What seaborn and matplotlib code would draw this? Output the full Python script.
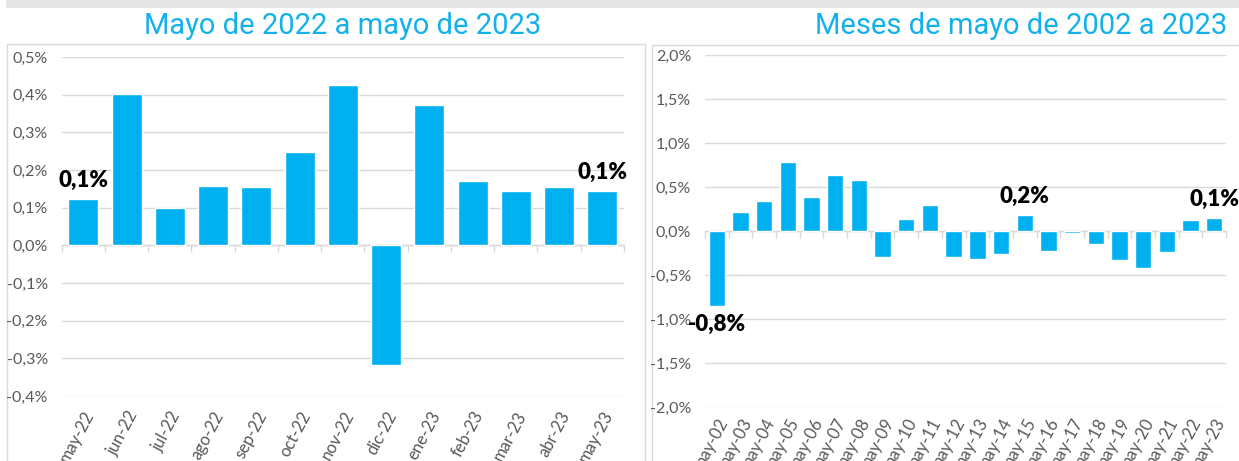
import numpy as np
import pandas as pd
import matplotlib
matplotlib.use("Agg")
import matplotlib.pyplot as plt
import seaborn as sns
from matplotlib.patches import Rectangle
from matplotlib.ticker import FixedLocator, FuncFormatter

# ---------------- data ----------------
left_months = ["may-22", "jun-22", "jul-22", "ago-22", "sep-22", "oct-22", "nov-22",
               "dic-22", "ene-23", "feb-23", "mar-23", "abr-23", "may-23"]
left_values = [0.123, 0.401, 0.0995, 0.157, 0.154, 0.248, 0.425,
               -0.319, 0.372, 0.170, 0.143, 0.154, 0.143]
left_yticks = [0.5, 0.4, 0.3, 0.2, 0.1, 0.0, -0.1, -0.2, -0.3, -0.4]
left_labelled = ["may-22", "may-23"]
left_title = "Mayo de 2022 a mayo de 2023"

right_years = ["may-02", "may-03", "may-04", "may-05", "may-06", "may-07", "may-08",
               "may-09", "may-10", "may-11", "may-12", "may-13", "may-14", "may-15",
               "may-16", "may-17", "may-18", "may-19", "may-20", "may-21", "may-22", "may-23"]
right_values = [-0.848, 0.220, 0.341, 0.788, 0.386, 0.636, 0.583,
                -0.292, 0.136, 0.299, -0.292, -0.314, -0.258, 0.182,
                -0.231, -0.019, -0.152, -0.333, -0.424, -0.239, 0.121, 0.144]
right_yticks = [2.0, 1.5, 1.0, 0.5, 0.0, -0.5, -1.0, -1.5, -2.0]
right_labelled = ["may-02", "may-15", "may-23"]
right_title = "Meses de mayo de 2002 a 2023"

# ---------------- style ----------------
BAR = "#00B0F0"
TITLE = "#12B1EC"
GRID = "#d9d9d9"
TXT = "#595959"

sns.set_theme(style="white")
plt.rcParams["font.family"] = ["Lato", "DejaVu Sans"]

W, H = 1239, 461
fig = plt.figure(figsize=(W / 100, H / 100), dpi=100)
fig.patch.set_facecolor("white")


def frac_rect(x0, y0, x1, y1):
    return [x0 / W, 1 - y1 / H, (x1 - x0) / W, (y1 - y0) / H]


# decorations: top band and panel frames
fig.add_artist(Rectangle((6 / W, 1 - 8 / H), (W - 6) / W, 8 / H, transform=fig.transFigure,
                         facecolor="#e6e6e6", edgecolor="none", zorder=0))
fig.add_artist(Rectangle((7 / W, -0.01), (645 - 7) / W, 1 - 44 / H + 0.01, transform=fig.transFigure,
                         fill=False, edgecolor=GRID, lw=1.0, zorder=0))
fig.add_artist(Rectangle((652 / W, -0.01), (W + 10 - 652) / W, 1 - 45 / H + 0.01, transform=fig.transFigure,
                         fill=False, edgecolor=GRID, lw=1.0, zorder=0))

fmt = FuncFormatter(lambda v, p: f"{v:.1f}".replace(".", ",") + "%")


def panel(rect, cats, vals, yticks, labelled, xpad):
    ax = fig.add_axes(frac_rect(*rect))
    ax.set_facecolor("none")
    df = pd.DataFrame({"cat": cats, "val": vals})
    sns.barplot(data=df, x="cat", y="val", color=BAR, width=0.69, saturation=1,
                ax=ax, zorder=3)
    n = len(cats)
    ax.set_xlim(-0.5, n - 0.5)
    ax.set_ylim(yticks[-1], yticks[0])
    ax.yaxis.set_major_locator(FixedLocator(yticks))
    ax.yaxis.set_major_formatter(fmt)
    ax.tick_params(axis="y", length=0, labelsize=11.5, labelcolor=TXT, pad=10)
    ax.grid(axis="y", color=GRID, lw=1.0, zorder=0)
    ax.grid(axis="x", visible=False)
    ax.set_xlabel("")
    ax.set_ylabel("")
    for s in ax.spines.values():
        s.set_visible(False)
    # zero line with category-boundary ticks
    ax.spines["bottom"].set_visible(True)
    ax.spines["bottom"].set_position(("data", 0))
    ax.spines["bottom"].set_color(GRID)
    ax.spines["bottom"].set_linewidth(1.0)
    ax.set_xticks(np.arange(n + 1) - 0.5)
    ax.tick_params(axis="x", length=5, width=1.0, color=GRID, direction="out",
                   labelbottom=False, bottom=True)
    # category labels at the bottom
    sec = ax.secondary_xaxis("bottom")
    sec.set_xticks(np.arange(n))
    sec.set_xticklabels(cats)
    sec.spines["bottom"].set_visible(False)
    sec.tick_params(axis="x", length=0, labelsize=12, labelcolor=TXT, pad=xpad)
    for lab in sec.get_xticklabels():
        lab.set_rotation(62)
        lab.set_ha("right")
        lab.set_va("top")
        lab.set_rotation_mode("anchor")
    # data labels
    bars = ax.containers[0]
    labels = [fmt(v, None) if c in labelled else "" for c, v in zip(cats, vals)]
    ax.bar_label(bars, labels=labels, padding=6, fontsize=16, fontweight="heavy",
                 color="black", zorder=5)
    return ax


panel((61.7, 57, 624, 396), left_months, left_values, left_yticks, left_labelled, 9)
panel((705, 55, 1226, 407), right_years, right_values, right_yticks, right_labelled, 6)

fig.text(343 / W, 1 - 33.5 / H, left_title, ha="center", va="baseline", fontsize=21,
         color=TITLE, family=["Roboto", "DejaVu Sans"])
fig.text(1227 / W, 1 - 33.5 / H, right_title, ha="right", va="baseline", fontsize=21,
         color=TITLE, family=["Roboto", "DejaVu Sans"])

fig.savefig("out.png", dpi=100)
